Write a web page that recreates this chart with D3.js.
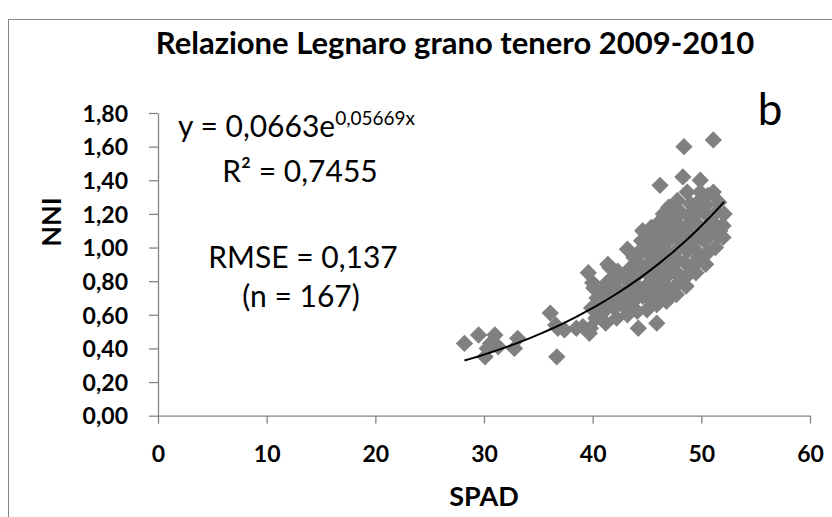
<!DOCTYPE html>
<html>
<head>
<meta charset="utf-8">
<script src="https://cdn.jsdelivr.net/npm/d3@7"></script>
<style>
  body { margin: 0; background: #fff; }
  text { font-family: Lato, "Open Sans", sans-serif; fill: #000; }
</style>
</head>
<body>
<svg id="chart" width="832" height="517"></svg>
<script>
//SPAD readings (x)
const spadValues = [
    28.2, 29.5, 30.1, 30.3, 30.6, 31.0, 31.3, 32.8, 33.1, 36.1, 36.7, 36.8, 36.6, 37.4, 38.5, 39.1,
    39.6, 39.7, 41.4, 41.6, 43.2, 44.2, 45.9, 46.2, 48.4, 51.1, 48.3, 49.9, 51.1, 51.7, 52.0, 49.7,
    48.8, 49.9, 40.7, 40.0, 41.8,
    39.8, 40.3, 39.9, 40.4, 40.1,
    41.2, 40.9, 41.4, 41.0, 41.3,
    42.2, 42.0, 42.4, 42.1, 42.5, 42.3,
    43.2, 43.0, 43.4, 43.1, 43.5, 43.8,
    44.1, 43.9, 44.3, 44.0, 44.4, 44.2, 44.5, 44.6,
    45.0, 45.2, 44.9, 45.1, 45.3, 44.8, 45.2, 45.4,
    45.9, 46.1, 45.8, 46.0, 46.2, 45.9, 46.3, 46.1, 46.5,
    46.8, 47.0, 46.7, 46.9, 47.1, 46.8, 47.0, 47.2, 47.0,
    47.7, 47.9, 47.6, 47.8, 48.0, 47.7, 47.9, 48.1, 47.8,
    48.6, 48.8, 48.5, 48.7, 48.9, 48.6, 48.8, 49.0, 48.7,
    49.5, 49.7, 49.4, 49.6, 49.8, 49.5, 49.7, 49.9,
    50.4, 50.6, 50.3, 50.5, 50.7, 50.4, 50.6,
    51.3, 51.5, 51.2, 51.4, 51.6,
    52.0, 51.9, 52.1,
    40.6, 41.6, 42.7, 43.6, 44.7, 45.5, 46.4, 47.3, 48.3, 49.2, 50.1, 46.6, 47.5, 48.4, 49.3, 45.6,
    44.6, 43.7, 42.8, 50.9, 48.1, 49.0, 46.4
];
//NNI values (y), same order
const nniValues = [
    0.43, 0.48, 0.35, 0.40, 0.43, 0.48, 0.41, 0.40, 0.46, 0.61, 0.35, 0.52, 0.54, 0.51, 0.52, 0.53,
    0.85, 0.49, 0.90, 0.88, 0.99, 0.52, 0.55, 1.37, 1.60, 1.64, 1.42, 1.40, 1.33, 1.10, 1.13, 0.94,
    0.84, 1.06, 0.73, 0.79, 0.82,
    0.52, 0.58, 0.64, 0.70, 0.76,
    0.55, 0.61, 0.67, 0.73, 0.79,
    0.58, 0.64, 0.70, 0.76, 0.82, 0.86,
    0.60, 0.67, 0.74, 0.81, 0.88, 0.94,
    0.62, 0.69, 0.76, 0.83, 0.90, 0.97, 1.04, 1.10,
    0.63, 0.70, 0.77, 0.84, 0.91, 0.98, 1.05, 1.12,
    0.66, 0.73, 0.80, 0.87, 0.94, 1.01, 1.08, 1.15, 1.20,
    0.68, 0.75, 0.82, 0.89, 0.96, 1.03, 1.10, 1.17, 1.24,
    0.72, 0.79, 0.86, 0.93, 1.00, 1.07, 1.14, 1.21, 1.28,
    0.77, 0.84, 0.91, 0.98, 1.05, 1.12, 1.19, 1.26, 1.33,
    0.85, 0.92, 0.99, 1.06, 1.13, 1.20, 1.27, 1.33,
    0.90, 0.97, 1.04, 1.11, 1.18, 1.25, 1.31,
    1.00, 1.07, 1.14, 1.21, 1.27,
    1.06, 1.13, 1.20,
    0.67, 0.71, 0.66, 0.78, 0.87, 0.95, 0.99, 1.06, 1.10, 1.16, 1.22, 0.78, 0.90, 1.02, 1.09, 0.74,
    0.71, 0.64, 0.73, 1.08, 0.82, 0.88, 1.13
];
//Axis ticks
const xTicks = [0, 10, 20, 30, 40, 50, 60];
const yTicks = [0, 0.2, 0.4, 0.6, 0.8, 1.0, 1.2, 1.4, 1.6, 1.8];
//Exponential trendline y = a*e^(b*x)
const fitA = 0.0663;
const fitB = 0.05669;

const points = spadValues.map((v, i) => ({spad: v, nni: nniValues[i]}));

const svg = d3.select("#chart");
const gray = "#868686";

//outer frame (only left and top visible)
svg.append("rect")
    .attr("x", 8.5).attr("y", 19.5)
    .attr("width", 900).attr("height", 600)
    .attr("fill", "none").attr("stroke", gray);

const xScale = d3.scaleLinear().domain([0, 60]).range([158, 810]);
const yScale = d3.scaleLinear().domain([0, 1.8]).range([415.7, 113]);

const comma = d => d.toFixed(2).replace(".", ",");

//x axis
const gx = svg.append("g")
    .attr("transform", "translate(0," + yScale(0) + ")")
    .call(d3.axisBottom(xScale).tickValues(xTicks).tickSize(8).tickSizeOuter(0).tickFormat(d3.format("d")));
gx.selectAll("text")
    .attr("y", 46).attr("dy", null)
    .style("font-size", "23px").style("font-weight", "bold");

//y axis
const gy = svg.append("g")
    .attr("transform", "translate(" + xScale(0) + ",0)")
    .call(d3.axisLeft(yScale).tickValues(yTicks).tickSize(9).tickSizeOuter(0).tickFormat(comma));
gy.selectAll("text")
    .attr("x", -30).attr("dy", "0.36em")
    .style("font-size", "23px").style("font-weight", "bold");

svg.selectAll(".domain, .tick line").attr("stroke", gray).attr("stroke-width", 1.3);

//markers: gray square rotated into a diamond
const diamond = d3.symbol().type(d3.symbolSquare).size(150);
svg.append("g").selectAll("path")
    .data(points)
    .join("path")
    .attr("d", diamond)
    .attr("transform", d => "translate(" + xScale(d.spad) + "," + yScale(d.nni) + ") rotate(45)")
    .attr("fill", "#808080");

//trendline across the data range
const xMin = d3.min(spadValues), xMax = d3.max(spadValues);
const fitLine = d3.range(0, 41).map(i => {
    const xv = xMin + (xMax - xMin) * i / 40;
    return [xv, fitA * Math.exp(fitB * xv)];
});
svg.append("path")
    .datum(fitLine)
    .attr("d", d3.line().x(d => xScale(d[0])).y(d => yScale(d[1])))
    .attr("fill", "none")
    .attr("stroke", "#000")
    .attr("stroke-width", 2);

//title
svg.append("text")
    .attr("x", 455).attr("y", 54)
    .attr("text-anchor", "middle")
    .style("font-size", "31px").style("font-weight", "bold")
    .text("Relazione Legnaro grano tenero 2009-2010");

//axis titles
svg.append("text")
    .attr("x", 484).attr("y", 506)
    .attr("text-anchor", "middle")
    .style("font-size", "27px").style("font-weight", "bold")
    .text("SPAD");
svg.append("text")
    .attr("transform", "translate(61,222) rotate(-90)")
    .attr("text-anchor", "middle")
    .style("font-size", "27px").style("font-weight", "bold")
    .text("NNI");

//panel letter
svg.append("text")
    .attr("x", 770).attr("y", 125)
    .attr("text-anchor", "middle")
    .style("font-size", "44px")
    .text("b");

//equation and statistics
const eq = svg.append("text")
    .attr("x", 178).attr("y", 137)
    .style("font-size", "30px");
eq.append("tspan").text("y = 0,0663e");
eq.append("tspan").attr("dy", -12).style("font-size", "19px").text("0,05669x");

svg.append("text")
    .attr("x", 300).attr("y", 182)
    .attr("text-anchor", "middle")
    .style("font-size", "30px")
    .text("R² = 0,7455");
svg.append("text")
    .attr("x", 303).attr("y", 268)
    .attr("text-anchor", "middle")
    .style("font-size", "30px")
    .text("RMSE = 0,137");
svg.append("text")
    .attr("x", 301).attr("y", 307)
    .attr("text-anchor", "middle")
    .style("font-size", "30px")
    .text("(n = 167)");
</script>
</body>
</html>
